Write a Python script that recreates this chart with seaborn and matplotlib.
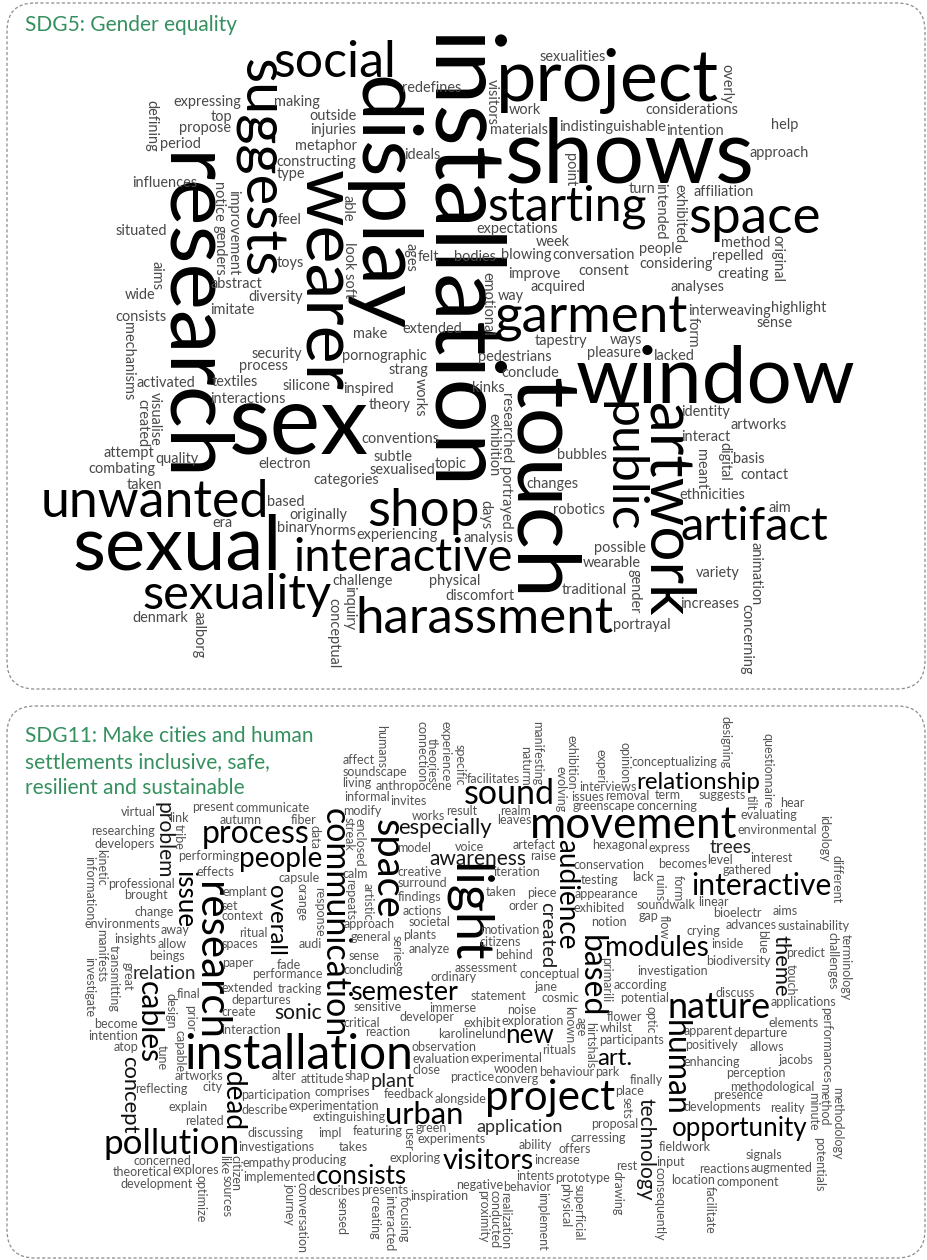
import numpy as np
import matplotlib
matplotlib.use("Agg")
import matplotlib.pyplot as plt
import seaborn as sns
from matplotlib.textpath import TextPath
from matplotlib.font_manager import FontProperties
from matplotlib.patches import FancyBboxPatch
from matplotlib.path import Path

# ---- SDG5 word cloud: big words (weight = font size in px), vertical flag ----
sdg5_big = ["installation", "sex", "shows", "research", "touch", "display", "window", "sexual",
            "project", "wearer", "artwork", "suggests", "garment", "shop", "space", "unwanted",
            "harassment", "social", "public", "sexuality", "starting", "interactive", "artifact"]
sdg5_big_weight = [96, 96, 90, 88, 88, 84, 80, 76, 72, 72, 62, 58, 53, 53, 53, 52,
                   51, 50, 50, 49, 48, 47, 47]
sdg5_big_vertical = [1, 0, 0, 1, 1, 1, 0, 0, 0, 1, 1, 1, 0, 0, 0, 0,
                     0, 0, 1, 0, 0, 0, 0]

sdg5_small_h = ["abstract", "conclude", "challenge", "considerations", "diversity", "bubbles",
                "expectations", "sense", "taken", "bodies", "silicone", "possible", "top",
                "acquired", "subtle", "affiliation", "activated", "changes", "constructing",
                "identity", "binary", "indistinguishable", "pornographic", "contact", "influences",
                "pedestrians", "norms", "people", "interactions", "traditional", "redefines",
                "creating", "quality", "materials", "make", "ethnicities", "feel", "pleasure",
                "physical", "help", "wide", "topic", "type", "ways", "era", "week", "theory",
                "variety", "period", "way", "categories", "considering", "process", "wearable",
                "felt", "artworks", "denmark", "work", "toys", "interact", "expressing", "tapestry",
                "sexualised", "method", "textiles", "analysis", "outside", "analyses", "electron",
                "turn", "strang", "aim", "situated", "kinks", "originally", "intention", "imitate",
                "robotics", "metaphor", "interweaving", "combating", "blowing", "inspired",
                "increases", "making", "consent", "conventions", "approach", "consists",
                "discomfort", "injuries", "lacked", "based", "sexualities", "extended", "basis",
                "propose", "improve", "experiencing", "repelled", "security", "portrayal", "ideals",
                "highlight", "attempt", "conversation"]
sdg5_small_v = ["improvement", "gender", "genders", "researched", "inquiry", "overly", "aims",
                "exhibition", "able", "form", "visualise", "point", "works", "animation",
                "defining", "emotional", "conceptual", "intended", "mechanisms", "portrayed",
                "ages", "digital", "aalborg", "visitors", "look soft", "meant", "notice",
                "exhibited", "days", "original", "created", "concerning"]
sdg5_small_weight = 14.5

# ---- SDG11 word cloud ----
sdg11_big = ["installation", "light", "movement", "research", "project", "space", "pollution",
             "nature", "sound", "communication", "human", "process", "based", "urban", "people",
             "interactive", "cables", "visitors", "modules", "dead", "audience", "semester",
             "opportunity", "relationship", "issue", "new", "consists", "overall", "art.",
             "especially", "theme", "concept", "awareness", "sonic", "technology", "problem",
             "created", "plant", "trees", "relation", "application"]
sdg11_big_weight = [48, 52, 44, 42, 42, 40, 35, 36, 34, 34, 32, 32, 32, 31, 28,
                    30, 30, 29, 28, 28, 28, 27, 26, 24, 26, 26, 26, 24, 24,
                    22, 22, 22, 21, 21, 21, 21, 20, 20, 19, 19, 18]
sdg11_big_vertical = [0, 1, 0, 1, 0, 1, 0, 0, 0, 1, 1, 0, 1, 0, 0,
                      0, 1, 0, 0, 1, 1, 0, 0, 0, 1, 0, 0, 1, 0,
                      0, 1, 1, 0, 0, 1, 1, 1, 0, 0, 0, 0]

sdg11_small_h = ["approach", "apparent", "empathy", "greenscape", "analyze", "methodological",
                 "professional", "statement", "impl", "soundwalk", "interaction", "prototype",
                 "anthropocene", "advances", "artworks", "artefact", "concluding", "developments",
                 "capsule", "flower", "experiments", "hear", "insights", "practice", "fiber",
                 "according", "related", "piece", "reaction", "reactions", "link", "behind",
                 "comprises", "becomes", "departures", "carressing", "actions", "allows",
                 "development", "facilitates", "general", "participants", "autumn", "conceptual",
                 "feedback", "gathered", "extended", "ability", "informal", "crying", "alter",
                 "hexagonal", "ordinary", "reality", "brought", "exhibit", "producing",
                 "concerning", "spaces", "behaviour", "model", "discuss", "explain", "order",
                 "critical", "location", "communicate", "notion", "evaluation", "environmental",
                 "beings", "experimental", "calm", "investigation", "investigations", "issues",
                 "plants", "perception", "performing", "jane", "featuring", "linear",
                 "performance", "rest", "result", "predict", "reflecting", "voice", "tracking",
                 "proposal", "set", "rituals", "presents", "suggests", "away", "wooden", "modify",
                 "potential", "describe", "testing", "developer", "signals", "virtual", "citizens",
                 "attitude", "express", "paper", "offers", "surround", "departure", "explores",
                 "leaves", "sense", "enhancing", "soundscape", "whilst", "green", "aims", "atop",
                 "negative", "living", "gap", "city", "raise", "sensitive", "presence", "effects",
                 "noise", "takes", "term", "ritual", "park", "works", "applications", "concerned",
                 "taken", "shap", "input", "present", "appearance", "observation", "interest",
                 "final", "increase", "findings", "positively", "implemented", "removal",
                 "motivation", "jacobs", "researching", "exploration", "experimentation", "lack",
                 "create", "intents", "invites", "inside", "intention", "iteration",
                 "extinguishing", "fieldwork", "emplant", "karolinelund", "exploring",
                 "evaluating", "allow", "converg", "creative", "biodiversity", "discussing",
                 "exhibited", "immerse", "component", "developers", "conservation", "close",
                 "level", "fade", "place", "societal", "elements", "theoretical", "realm", "audi",
                 "finally", "context", "cosmic", "alongside", "bioelectr", "become", "behavior",
                 "affect", "sustainability", "participation", "interviews", "inspiration",
                 "augmented", "change", "assessment", "describes", "conceptualizing",
                 "environments"]
sdg11_small_v = ["hirtshals", "connection", "challenges", "capable", "evolving", "conversation",
                 "facilitate", "streak", "primarili", "known", "ideology", "great", "proximity",
                 "orange", "optic", "like", "exhibition", "response", "minute", "kinetic",
                 "series", "sensed", "form", "prior", "drawing", "theories", "blue", "tune",
                 "specific", "transmitting", "consequently", "enclosed", "age", "user", "tilt",
                 "manifests", "physical", "humans", "touch", "citizen", "ruins", "conducted",
                 "potentials", "tribe", "questionnaire", "journey", "opinion", "investigate",
                 "superficial", "artistic", "performances", "optimize", "naturm", "experience",
                 "method", "data", "flow", "focusing", "different", "design", "realization",
                 "manifesting", "terminology", "sources", "experi", "interacted", "methodology",
                 "information", "implement", "creating", "designing", "repeats", "sets"]
sdg11_small_weight = 12.5

sdg5_title = "SDG5: Gender equality"
sdg11_title = ["SDG11: Make cities and human", "settlements inclusive, safe,",
               "resilient and sustainable"]

W, H, DPI = 928, 1260, 100
GREEN = "#35905f"

sns.set_theme(style="white")
plt.rcParams["font.family"] = ["Lato", "DejaVu Sans"]
FONT = FontProperties(family=["Lato", "DejaVu Sans"])
shades = sns.blend_palette(["#545454", "#000000"], 32)


def word_mask(word, px, vertical):
    # ink mask of a word plus the offset of its text anchor inside the mask box
    tp = TextPath((0, 0), word, size=px, prop=FONT)
    ext = tp.get_extents()
    v = tp.vertices
    if vertical:
        pts = np.column_stack([v[:, 1] - ext.y0 + 1, v[:, 0] - ext.x0 + 1])
        bw, bh = ext.y1 - ext.y0, ext.x1 - ext.x0
        anchor = (1 - ext.y0, 1 - ext.x0)
    else:
        pts = np.column_stack([v[:, 0] - ext.x0 + 1, ext.y1 - v[:, 1] + 1])
        bw, bh = ext.x1 - ext.x0, ext.y1 - ext.y0
        anchor = (1 - ext.x0, 1 + ext.y1)
    bw, bh = int(np.ceil(bw)) + 2, int(np.ceil(bh)) + 2
    gx, gy = np.meshgrid(np.arange(bw) + 0.5, np.arange(bh) + 0.5)
    m = Path(pts, tp.codes).contains_points(np.column_stack([gx.ravel(), gy.ravel()]))
    m = m.reshape(bh, bw)
    d = m.copy()
    d[1:] |= m[:-1]
    d[:-1] |= m[1:]
    d[:, 1:] |= m[:, :-1]
    d[:, :-1] |= m[:, 1:]
    return d.astype(np.uint8), anchor


def halton(i, b):
    f, r = 1.0, 0.0
    while i > 0:
        f /= b
        r += f * (i % b)
        i //= b
    return r


def layout(words, weights, vertical, area, blocked):
    # wordcloud-like packing: each word goes to the free spot nearest a scattered target
    left, top, right, bottom = area
    occ = np.zeros((bottom - top, right - left), dtype=np.uint8)
    for bl, bt, br, bb in blocked:
        occ[bt - top:bb - top, bl - left:br - left] = 1
    hh, ww = occ.shape
    placed = []
    for n, i in enumerate(np.argsort(-np.asarray(weights), kind="stable")):
        tx = ww * (0.12 + 0.76 * halton(n + 1, 2))
        ty = hh * (0.12 + 0.76 * halton(n + 1, 3))
        px = weights[i]
        while px >= 8:
            mask, (ax_, ay_) = word_mask(words[i], px, vertical[i])
            bh, bw = mask.shape
            ii = np.zeros((hh + 1, ww + 1), np.int32)
            ii[1:, 1:] = occ.cumsum(0, dtype=np.int32).cumsum(1, dtype=np.int32)
            s = ii[bh:, bw:] - ii[:-bh, bw:] - ii[bh:, :-bw] + ii[:-bh, :-bw]
            ys, xs = np.nonzero(s == 0)
            if len(xs):
                cost = (xs + bw / 2 - tx) ** 2 + (ys + bh / 2 - ty) ** 2
                k = np.argmin(cost)
                x, y = xs[k], ys[k]
                occ[y:y + bh, x:x + bw] |= mask
                placed.append((words[i], px, vertical[i], left + x + ax_, top + y + ay_))
                break
            px *= 0.92
    return placed


def build(big, big_w, big_v, small_h, small_v, small_w):
    words = big + small_h + small_v
    weights = list(big_w) + [small_w] * (len(small_h) + len(small_v))
    vert = list(big_v) + [0] * len(small_h) + [1] * len(small_v)
    return words, weights, vert


fig = plt.figure(figsize=(W / DPI, H / DPI), dpi=DPI)
ax = fig.add_axes([0, 0, 1, 1])
ax.set_xlim(0, W)
ax.set_ylim(H, 0)
ax.axis("off")

panels = [
    (build(sdg5_big, sdg5_big_weight, sdg5_big_vertical, sdg5_small_h, sdg5_small_v,
           sdg5_small_weight), (30, 14, 900, 678), [(30, 14, 262, 42)], (7, 3, 925, 689)),
    (build(sdg11_big, sdg11_big_weight, sdg11_big_vertical, sdg11_small_h, sdg11_small_v,
           sdg11_small_weight), (24, 712, 910, 1255), [(24, 712, 342, 802)], (7, 706, 925, 1258)),
]

for (words, weights, vert), area, blocked, frame in panels:
    for word, px, v, x, y in layout(words, weights, vert, area, blocked):
        t = np.clip((px - 13) / (24 - 13), 0, 1)
        ax.text(x, y, word, fontsize=px * 72 / DPI,
                rotation=-90 if v else 0, rotation_mode="anchor", ha="left", va="baseline",
                color=shades[int(round(t * 31))])
    fx0, fy0, fx1, fy1 = frame
    ax.add_patch(FancyBboxPatch((fx0, fy0), fx1 - fx0, fy1 - fy0,
                                boxstyle="round,pad=0,rounding_size=28", fill=False,
                                ec="#8c8c8c", lw=0.9, ls=(0, (2.5, 1.8))))

ax.text(25, 31, sdg5_title, fontsize=15, color=GREEN, ha="left", va="baseline")
for k, line in enumerate(sdg11_title):
    ax.text(25, 742 + 26 * k, line, fontsize=15, color=GREEN, ha="left", va="baseline")

fig.savefig("out.png", dpi=DPI)
